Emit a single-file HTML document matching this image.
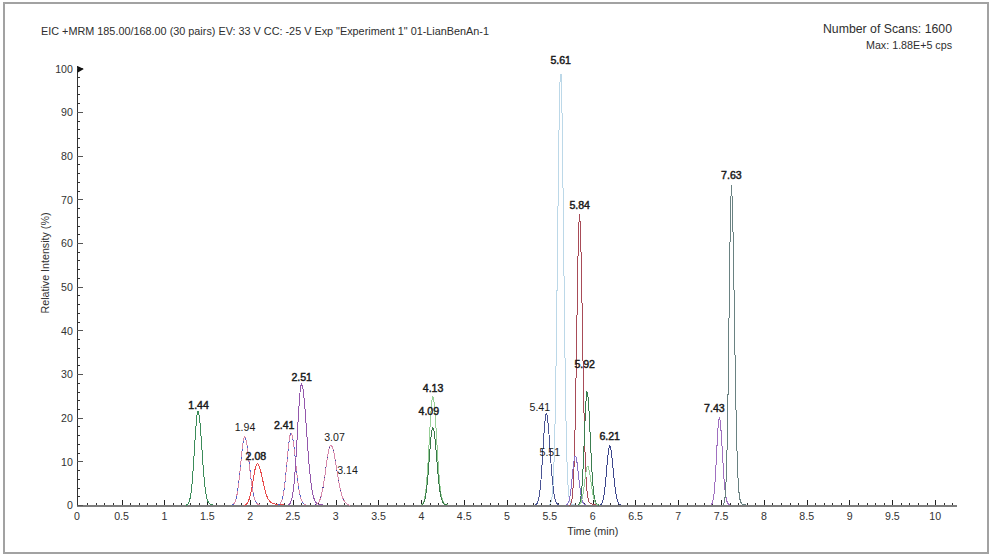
<!DOCTYPE html><html><head><meta charset="utf-8"><style>html,body{margin:0;padding:0;background:#fff;width:993px;height:558px;overflow:hidden}</style></head><body><svg width="993" height="558" viewBox="0 0 993 558" style="display:block">
<rect x="0" y="0" width="993" height="558" fill="#fff"/>
<rect x="4" y="3" width="984" height="550" fill="none" stroke="#a2a2a2" stroke-width="2"/>
<g font-family='"Liberation Sans", sans-serif'>
<text x="41" y="35" font-size="11.5" text-anchor="start" font-weight="normal" fill="#2e2e2e" textLength="448" lengthAdjust="spacingAndGlyphs" >EIC +MRM 185.00/168.00 (30 pairs) EV: 33 V CC: -25 V Exp &quot;Experiment 1&quot; 01-LianBenAn-1</text>
<text x="952" y="33" font-size="13" text-anchor="end" font-weight="normal" fill="#2e2e2e" textLength="129" lengthAdjust="spacingAndGlyphs" >Number of Scans: 1600</text>
<text x="952" y="48.6" font-size="10.5" text-anchor="end" font-weight="normal" fill="#2e2e2e" textLength="86" lengthAdjust="spacingAndGlyphs" >Max: 1.88E+5 cps</text>
<text x="0" y="0" font-size="11" text-anchor="middle" fill="#333" transform="translate(48.6,263) rotate(-90)" textLength="101" lengthAdjust="spacingAndGlyphs">Relative Intensity (%)</text>
<text x="592.8" y="535" font-size="11" text-anchor="middle" font-weight="normal" fill="#2e2e2e" textLength="51" lengthAdjust="spacingAndGlyphs" >Time (min)</text>
</g>
<g shape-rendering="crispEdges"><line x1="77.5" y1="66" x2="77.5" y2="506" stroke="#333" stroke-width="1"/><rect x="77" y="505" width="880" height="2" fill="#7c7c7c"/><line x1="77" y1="505.5" x2="83" y2="505.5" stroke="#555" stroke-width="1"/><line x1="77" y1="496.5" x2="80" y2="496.5" stroke="#333" stroke-width="1"/><line x1="77" y1="488.5" x2="80" y2="488.5" stroke="#333" stroke-width="1"/><line x1="77" y1="479.5" x2="80" y2="479.5" stroke="#333" stroke-width="1"/><line x1="77" y1="470.5" x2="80" y2="470.5" stroke="#333" stroke-width="1"/><line x1="77" y1="461.5" x2="83" y2="461.5" stroke="#555" stroke-width="1"/><line x1="77" y1="453.5" x2="80" y2="453.5" stroke="#333" stroke-width="1"/><line x1="77" y1="444.5" x2="80" y2="444.5" stroke="#333" stroke-width="1"/><line x1="77" y1="435.5" x2="80" y2="435.5" stroke="#333" stroke-width="1"/><line x1="77" y1="426.5" x2="80" y2="426.5" stroke="#333" stroke-width="1"/><line x1="77" y1="418.5" x2="83" y2="418.5" stroke="#555" stroke-width="1"/><line x1="77" y1="409.5" x2="80" y2="409.5" stroke="#333" stroke-width="1"/><line x1="77" y1="400.5" x2="80" y2="400.5" stroke="#333" stroke-width="1"/><line x1="77" y1="392.5" x2="80" y2="392.5" stroke="#333" stroke-width="1"/><line x1="77" y1="383.5" x2="80" y2="383.5" stroke="#333" stroke-width="1"/><line x1="77" y1="374.5" x2="83" y2="374.5" stroke="#555" stroke-width="1"/><line x1="77" y1="365.5" x2="80" y2="365.5" stroke="#333" stroke-width="1"/><line x1="77" y1="357.5" x2="80" y2="357.5" stroke="#333" stroke-width="1"/><line x1="77" y1="348.5" x2="80" y2="348.5" stroke="#333" stroke-width="1"/><line x1="77" y1="339.5" x2="80" y2="339.5" stroke="#333" stroke-width="1"/><line x1="77" y1="330.5" x2="83" y2="330.5" stroke="#555" stroke-width="1"/><line x1="77" y1="322.5" x2="80" y2="322.5" stroke="#333" stroke-width="1"/><line x1="77" y1="313.5" x2="80" y2="313.5" stroke="#333" stroke-width="1"/><line x1="77" y1="304.5" x2="80" y2="304.5" stroke="#333" stroke-width="1"/><line x1="77" y1="295.5" x2="80" y2="295.5" stroke="#333" stroke-width="1"/><line x1="77" y1="287.5" x2="83" y2="287.5" stroke="#555" stroke-width="1"/><line x1="77" y1="278.5" x2="80" y2="278.5" stroke="#333" stroke-width="1"/><line x1="77" y1="269.5" x2="80" y2="269.5" stroke="#333" stroke-width="1"/><line x1="77" y1="260.5" x2="80" y2="260.5" stroke="#333" stroke-width="1"/><line x1="77" y1="252.5" x2="80" y2="252.5" stroke="#333" stroke-width="1"/><line x1="77" y1="243.5" x2="83" y2="243.5" stroke="#555" stroke-width="1"/><line x1="77" y1="234.5" x2="80" y2="234.5" stroke="#333" stroke-width="1"/><line x1="77" y1="226.5" x2="80" y2="226.5" stroke="#333" stroke-width="1"/><line x1="77" y1="217.5" x2="80" y2="217.5" stroke="#333" stroke-width="1"/><line x1="77" y1="208.5" x2="80" y2="208.5" stroke="#333" stroke-width="1"/><line x1="77" y1="199.5" x2="83" y2="199.5" stroke="#555" stroke-width="1"/><line x1="77" y1="191.5" x2="80" y2="191.5" stroke="#333" stroke-width="1"/><line x1="77" y1="182.5" x2="80" y2="182.5" stroke="#333" stroke-width="1"/><line x1="77" y1="173.5" x2="80" y2="173.5" stroke="#333" stroke-width="1"/><line x1="77" y1="164.5" x2="80" y2="164.5" stroke="#333" stroke-width="1"/><line x1="77" y1="156.5" x2="83" y2="156.5" stroke="#555" stroke-width="1"/><line x1="77" y1="147.5" x2="80" y2="147.5" stroke="#333" stroke-width="1"/><line x1="77" y1="138.5" x2="80" y2="138.5" stroke="#333" stroke-width="1"/><line x1="77" y1="129.5" x2="80" y2="129.5" stroke="#333" stroke-width="1"/><line x1="77" y1="121.5" x2="80" y2="121.5" stroke="#333" stroke-width="1"/><line x1="77" y1="112.5" x2="83" y2="112.5" stroke="#555" stroke-width="1"/><line x1="77" y1="103.5" x2="80" y2="103.5" stroke="#333" stroke-width="1"/><line x1="77" y1="94.5" x2="80" y2="94.5" stroke="#333" stroke-width="1"/><line x1="77" y1="86.5" x2="80" y2="86.5" stroke="#333" stroke-width="1"/><line x1="77" y1="77.5" x2="80" y2="77.5" stroke="#333" stroke-width="1"/><line x1="77" y1="68.5" x2="83" y2="68.5" stroke="#555" stroke-width="1"/><line x1="87.5" y1="503" x2="87.5" y2="505" stroke="#333" stroke-width="1"/><line x1="96.5" y1="503" x2="96.5" y2="505" stroke="#333" stroke-width="1"/><line x1="104.5" y1="503" x2="104.5" y2="505" stroke="#333" stroke-width="1"/><line x1="113.5" y1="503" x2="113.5" y2="505" stroke="#333" stroke-width="1"/><line x1="122.5" y1="500" x2="122.5" y2="505" stroke="#222" stroke-width="1"/><line x1="130.5" y1="503" x2="130.5" y2="505" stroke="#333" stroke-width="1"/><line x1="139.5" y1="503" x2="139.5" y2="505" stroke="#333" stroke-width="1"/><line x1="147.5" y1="503" x2="147.5" y2="505" stroke="#333" stroke-width="1"/><line x1="156.5" y1="503" x2="156.5" y2="505" stroke="#333" stroke-width="1"/><line x1="164.5" y1="500" x2="164.5" y2="505" stroke="#222" stroke-width="1"/><line x1="173.5" y1="503" x2="173.5" y2="505" stroke="#333" stroke-width="1"/><line x1="181.5" y1="503" x2="181.5" y2="505" stroke="#333" stroke-width="1"/><line x1="190.5" y1="503" x2="190.5" y2="505" stroke="#333" stroke-width="1"/><line x1="199.5" y1="503" x2="199.5" y2="505" stroke="#333" stroke-width="1"/><line x1="207.5" y1="500" x2="207.5" y2="505" stroke="#222" stroke-width="1"/><line x1="216.5" y1="503" x2="216.5" y2="505" stroke="#333" stroke-width="1"/><line x1="224.5" y1="503" x2="224.5" y2="505" stroke="#333" stroke-width="1"/><line x1="233.5" y1="503" x2="233.5" y2="505" stroke="#333" stroke-width="1"/><line x1="241.5" y1="503" x2="241.5" y2="505" stroke="#333" stroke-width="1"/><line x1="250.5" y1="500" x2="250.5" y2="505" stroke="#222" stroke-width="1"/><line x1="259.5" y1="503" x2="259.5" y2="505" stroke="#333" stroke-width="1"/><line x1="267.5" y1="503" x2="267.5" y2="505" stroke="#333" stroke-width="1"/><line x1="276.5" y1="503" x2="276.5" y2="505" stroke="#333" stroke-width="1"/><line x1="284.5" y1="503" x2="284.5" y2="505" stroke="#333" stroke-width="1"/><line x1="293.5" y1="500" x2="293.5" y2="505" stroke="#222" stroke-width="1"/><line x1="301.5" y1="503" x2="301.5" y2="505" stroke="#333" stroke-width="1"/><line x1="310.5" y1="503" x2="310.5" y2="505" stroke="#333" stroke-width="1"/><line x1="318.5" y1="503" x2="318.5" y2="505" stroke="#333" stroke-width="1"/><line x1="327.5" y1="503" x2="327.5" y2="505" stroke="#333" stroke-width="1"/><line x1="336.5" y1="500" x2="336.5" y2="505" stroke="#222" stroke-width="1"/><line x1="344.5" y1="503" x2="344.5" y2="505" stroke="#333" stroke-width="1"/><line x1="353.5" y1="503" x2="353.5" y2="505" stroke="#333" stroke-width="1"/><line x1="361.5" y1="503" x2="361.5" y2="505" stroke="#333" stroke-width="1"/><line x1="370.5" y1="503" x2="370.5" y2="505" stroke="#333" stroke-width="1"/><line x1="378.5" y1="500" x2="378.5" y2="505" stroke="#222" stroke-width="1"/><line x1="387.5" y1="503" x2="387.5" y2="505" stroke="#333" stroke-width="1"/><line x1="396.5" y1="503" x2="396.5" y2="505" stroke="#333" stroke-width="1"/><line x1="404.5" y1="503" x2="404.5" y2="505" stroke="#333" stroke-width="1"/><line x1="413.5" y1="503" x2="413.5" y2="505" stroke="#333" stroke-width="1"/><line x1="421.5" y1="500" x2="421.5" y2="505" stroke="#222" stroke-width="1"/><line x1="430.5" y1="503" x2="430.5" y2="505" stroke="#333" stroke-width="1"/><line x1="438.5" y1="503" x2="438.5" y2="505" stroke="#333" stroke-width="1"/><line x1="447.5" y1="503" x2="447.5" y2="505" stroke="#333" stroke-width="1"/><line x1="456.5" y1="503" x2="456.5" y2="505" stroke="#333" stroke-width="1"/><line x1="464.5" y1="500" x2="464.5" y2="505" stroke="#222" stroke-width="1"/><line x1="473.5" y1="503" x2="473.5" y2="505" stroke="#333" stroke-width="1"/><line x1="481.5" y1="503" x2="481.5" y2="505" stroke="#333" stroke-width="1"/><line x1="490.5" y1="503" x2="490.5" y2="505" stroke="#333" stroke-width="1"/><line x1="498.5" y1="503" x2="498.5" y2="505" stroke="#333" stroke-width="1"/><line x1="507.5" y1="500" x2="507.5" y2="505" stroke="#222" stroke-width="1"/><line x1="515.5" y1="503" x2="515.5" y2="505" stroke="#333" stroke-width="1"/><line x1="524.5" y1="503" x2="524.5" y2="505" stroke="#333" stroke-width="1"/><line x1="533.5" y1="503" x2="533.5" y2="505" stroke="#333" stroke-width="1"/><line x1="541.5" y1="503" x2="541.5" y2="505" stroke="#333" stroke-width="1"/><line x1="550.5" y1="500" x2="550.5" y2="505" stroke="#222" stroke-width="1"/><line x1="558.5" y1="503" x2="558.5" y2="505" stroke="#333" stroke-width="1"/><line x1="567.5" y1="503" x2="567.5" y2="505" stroke="#333" stroke-width="1"/><line x1="575.5" y1="503" x2="575.5" y2="505" stroke="#333" stroke-width="1"/><line x1="584.5" y1="503" x2="584.5" y2="505" stroke="#333" stroke-width="1"/><line x1="593.5" y1="500" x2="593.5" y2="505" stroke="#222" stroke-width="1"/><line x1="601.5" y1="503" x2="601.5" y2="505" stroke="#333" stroke-width="1"/><line x1="610.5" y1="503" x2="610.5" y2="505" stroke="#333" stroke-width="1"/><line x1="618.5" y1="503" x2="618.5" y2="505" stroke="#333" stroke-width="1"/><line x1="627.5" y1="503" x2="627.5" y2="505" stroke="#333" stroke-width="1"/><line x1="635.5" y1="500" x2="635.5" y2="505" stroke="#222" stroke-width="1"/><line x1="644.5" y1="503" x2="644.5" y2="505" stroke="#333" stroke-width="1"/><line x1="652.5" y1="503" x2="652.5" y2="505" stroke="#333" stroke-width="1"/><line x1="661.5" y1="503" x2="661.5" y2="505" stroke="#333" stroke-width="1"/><line x1="670.5" y1="503" x2="670.5" y2="505" stroke="#333" stroke-width="1"/><line x1="678.5" y1="500" x2="678.5" y2="505" stroke="#222" stroke-width="1"/><line x1="687.5" y1="503" x2="687.5" y2="505" stroke="#333" stroke-width="1"/><line x1="695.5" y1="503" x2="695.5" y2="505" stroke="#333" stroke-width="1"/><line x1="704.5" y1="503" x2="704.5" y2="505" stroke="#333" stroke-width="1"/><line x1="712.5" y1="503" x2="712.5" y2="505" stroke="#333" stroke-width="1"/><line x1="721.5" y1="500" x2="721.5" y2="505" stroke="#222" stroke-width="1"/><line x1="730.5" y1="503" x2="730.5" y2="505" stroke="#333" stroke-width="1"/><line x1="738.5" y1="503" x2="738.5" y2="505" stroke="#333" stroke-width="1"/><line x1="747.5" y1="503" x2="747.5" y2="505" stroke="#333" stroke-width="1"/><line x1="755.5" y1="503" x2="755.5" y2="505" stroke="#333" stroke-width="1"/><line x1="764.5" y1="500" x2="764.5" y2="505" stroke="#222" stroke-width="1"/><line x1="772.5" y1="503" x2="772.5" y2="505" stroke="#333" stroke-width="1"/><line x1="781.5" y1="503" x2="781.5" y2="505" stroke="#333" stroke-width="1"/><line x1="790.5" y1="503" x2="790.5" y2="505" stroke="#333" stroke-width="1"/><line x1="798.5" y1="503" x2="798.5" y2="505" stroke="#333" stroke-width="1"/><line x1="807.5" y1="500" x2="807.5" y2="505" stroke="#222" stroke-width="1"/><line x1="815.5" y1="503" x2="815.5" y2="505" stroke="#333" stroke-width="1"/><line x1="824.5" y1="503" x2="824.5" y2="505" stroke="#333" stroke-width="1"/><line x1="832.5" y1="503" x2="832.5" y2="505" stroke="#333" stroke-width="1"/><line x1="841.5" y1="503" x2="841.5" y2="505" stroke="#333" stroke-width="1"/><line x1="849.5" y1="500" x2="849.5" y2="505" stroke="#222" stroke-width="1"/><line x1="858.5" y1="503" x2="858.5" y2="505" stroke="#333" stroke-width="1"/><line x1="867.5" y1="503" x2="867.5" y2="505" stroke="#333" stroke-width="1"/><line x1="875.5" y1="503" x2="875.5" y2="505" stroke="#333" stroke-width="1"/><line x1="884.5" y1="503" x2="884.5" y2="505" stroke="#333" stroke-width="1"/><line x1="892.5" y1="500" x2="892.5" y2="505" stroke="#222" stroke-width="1"/><line x1="901.5" y1="503" x2="901.5" y2="505" stroke="#333" stroke-width="1"/><line x1="909.5" y1="503" x2="909.5" y2="505" stroke="#333" stroke-width="1"/><line x1="918.5" y1="503" x2="918.5" y2="505" stroke="#333" stroke-width="1"/><line x1="927.5" y1="503" x2="927.5" y2="505" stroke="#333" stroke-width="1"/><line x1="935.5" y1="500" x2="935.5" y2="505" stroke="#222" stroke-width="1"/><line x1="944.5" y1="503" x2="944.5" y2="505" stroke="#333" stroke-width="1"/><line x1="952.5" y1="503" x2="952.5" y2="505" stroke="#333" stroke-width="1"/></g>
<path d="M77.5,66 L83.8,68.9 L77.5,72.8 Z" fill="#111"/>
<g font-family='"Liberation Sans", sans-serif' font-size="10.6" fill="#333"><text x="72.9" y="509.4" text-anchor="end">0</text><text x="72.9" y="465.7" text-anchor="end">10</text><text x="72.9" y="422.1" text-anchor="end">20</text><text x="72.9" y="378.4" text-anchor="end">30</text><text x="72.9" y="334.7" text-anchor="end">40</text><text x="72.9" y="291.0" text-anchor="end">50</text><text x="72.9" y="247.3" text-anchor="end">60</text><text x="72.9" y="203.6" text-anchor="end">70</text><text x="72.9" y="159.9" text-anchor="end">80</text><text x="72.9" y="116.3" text-anchor="end">90</text><text x="72.9" y="72.6" text-anchor="end">100</text><text x="76.9" y="520" text-anchor="middle">0</text><text x="121.6" y="520" text-anchor="middle">0.5</text><text x="164.4" y="520" text-anchor="middle">1</text><text x="207.3" y="520" text-anchor="middle">1.5</text><text x="250.1" y="520" text-anchor="middle">2</text><text x="292.9" y="520" text-anchor="middle">2.5</text><text x="335.7" y="520" text-anchor="middle">3</text><text x="378.5" y="520" text-anchor="middle">3.5</text><text x="421.4" y="520" text-anchor="middle">4</text><text x="464.2" y="520" text-anchor="middle">4.5</text><text x="507.0" y="520" text-anchor="middle">5</text><text x="549.8" y="520" text-anchor="middle">5.5</text><text x="592.6" y="520" text-anchor="middle">6</text><text x="635.5" y="520" text-anchor="middle">6.5</text><text x="678.3" y="520" text-anchor="middle">7</text><text x="721.1" y="520" text-anchor="middle">7.5</text><text x="763.9" y="520" text-anchor="middle">8</text><text x="806.7" y="520" text-anchor="middle">8.5</text><text x="849.6" y="520" text-anchor="middle">9</text><text x="892.4" y="520" text-anchor="middle">9.5</text><text x="935.2" y="520" text-anchor="middle">10</text></g>
<g fill="none" stroke-width="1" stroke-linejoin="round" shape-rendering="crispEdges"><path d="M186.0,505.2 L187.0,504.8 L188.0,503.9 L189.0,502.1 L190.0,498.6 L191.0,492.8 L192.0,483.9 L193.0,471.6 L194.0,456.6 L195.0,440.4 L196.0,425.7 L197.0,415.3 L198.0,411.5 L199.0,414.5 L200.0,423.1 L201.0,435.8 L202.0,450.3 L203.0,464.5 L204.0,477.0 L205.0,486.8 L206.0,493.9 L207.0,498.6 L208.0,501.5 L209.0,503.2 L210.0,504.1 L211.0,504.6 L212.0,504.8 L213.0,505.0" stroke="#3c8c5a"/><path d="M231.7,505.2 L232.7,504.7 L233.7,503.9 L234.7,502.5 L235.7,500.0 L236.7,496.2 L237.7,490.7 L238.7,483.2 L239.7,474.1 L240.7,463.9 L241.7,453.7 L242.7,445.0 L243.7,439.0 L244.7,436.9 L245.7,438.5 L246.7,443.1 L247.7,450.2 L248.7,458.7 L249.7,467.8 L250.7,476.6 L251.7,484.3 L252.7,490.7 L253.7,495.6 L254.7,499.1 L255.7,501.5 L256.7,503.1 L257.7,504.1 L258.7,504.6 L259.7,505.0" stroke="#d98aa8"/><path d="M231.7,505.2 L232.7,504.7 L233.7,503.9 L234.7,502.5 L235.7,500.0 L236.7,496.2 L237.7,490.7 L238.7,483.2 L239.7,474.1 L240.7,463.9 L241.7,453.7 L242.7,445.0 L243.7,439.0 L244.7,436.9 L245.7,438.5 L246.7,443.1 L247.7,450.2 L248.7,458.7 L249.7,467.8 L250.7,476.6 L251.7,484.3 L252.7,490.7 L253.7,495.6 L254.7,499.1 L255.7,501.5 L256.7,503.1 L257.7,504.1 L258.7,504.6 L259.7,505.0" stroke="#5060c8" stroke-dasharray="2.5,5.5"/><path d="M244.1,505.2 L245.1,504.9 L246.1,504.3 L247.1,503.3 L248.1,501.7 L249.1,499.3 L250.1,495.9 L251.1,491.5 L252.1,486.1 L253.1,480.2 L254.1,474.3 L255.1,469.1 L256.1,465.5 L257.1,463.8 L258.1,464.2 L259.1,466.0 L260.1,468.9 L261.1,472.8 L262.1,477.3 L263.1,481.9 L264.1,486.4 L265.1,490.5 L266.1,493.9 L267.1,496.7 L268.1,498.9 L269.1,500.5 L270.1,501.7 L271.1,502.5 L272.1,503.1 L273.1,503.5 L274.1,503.8 L275.1,504.0 L276.1,504.2 L277.1,504.3 L278.1,504.5 L279.1,504.6 L280.1,504.6 L281.1,504.7 L282.1,504.8 L283.1,504.9 L284.1,504.9" stroke="#e84a4a"/><path d="M278.0,505.1 L279.0,504.7 L280.0,503.9 L281.0,502.3 L282.0,499.8 L283.0,495.7 L284.0,489.9 L285.0,482.1 L286.0,472.4 L287.0,461.7 L288.0,451.0 L289.0,441.8 L290.0,435.5 L291.0,433.3 L292.0,435.0 L293.0,439.8 L294.0,447.3 L295.0,456.3 L296.0,465.8 L297.0,475.0 L298.0,483.2 L299.0,489.9 L300.0,495.0 L301.0,498.8 L302.0,501.3 L303.0,503.0 L304.0,504.0 L305.0,504.6 L306.0,504.9" stroke="#d98aa8"/><path d="M278.0,505.1 L279.0,504.7 L280.0,503.9 L281.0,502.3 L282.0,499.8 L283.0,495.7 L284.0,489.9 L285.0,482.1 L286.0,472.4 L287.0,461.7 L288.0,451.0 L289.0,441.8 L290.0,435.5 L291.0,433.3 L292.0,435.0 L293.0,439.8 L294.0,447.3 L295.0,456.3 L296.0,465.8 L297.0,475.0 L298.0,483.2 L299.0,489.9 L300.0,495.0 L301.0,498.8 L302.0,501.3 L303.0,503.0 L304.0,504.0 L305.0,504.6 L306.0,504.9" stroke="#5060c8" stroke-dasharray="2.5,5.5"/><path d="M287.5,505.2 L288.5,504.9 L289.5,504.1 L290.5,502.7 L291.5,500.1 L292.5,495.8 L293.5,489.0 L294.5,479.2 L295.5,466.0 L296.5,449.7 L297.5,431.6 L298.5,413.6 L299.5,398.0 L300.5,387.4 L301.5,383.7 L302.5,385.9 L303.5,392.5 L304.5,402.7 L305.5,415.5 L306.5,429.7 L307.5,444.1 L308.5,457.5 L309.5,469.4 L310.5,479.2 L311.5,487.0 L312.5,492.8 L313.5,497.0 L314.5,499.9 L315.5,501.8 L316.5,503.0 L317.5,503.8 L318.5,504.3 L319.5,504.6 L320.5,504.8 L321.5,504.9 L322.5,505.0" stroke="#9458ac"/><path d="M314.8,505.1 L315.8,504.8 L316.8,504.3 L317.8,503.4 L318.8,502.1 L319.8,500.1 L320.8,497.3 L321.8,493.5 L322.8,488.7 L323.8,482.8 L324.8,476.1 L325.8,468.8 L326.8,461.6 L327.8,455.0 L328.8,449.7 L329.8,446.2 L330.8,445.0 L331.8,445.9 L332.8,448.4 L333.8,452.3 L334.8,457.5 L335.8,463.4 L336.8,469.6 L337.8,475.8 L338.8,481.6 L339.8,486.9 L340.8,491.4 L341.8,495.1 L342.8,498.0 L343.8,500.3 L344.8,501.9 L345.8,503.1 L346.8,503.9 L347.8,504.5 L348.8,504.9 L349.8,505.1" stroke="#d88aac"/><path d="M314.8,505.1 L315.8,504.8 L316.8,504.3 L317.8,503.4 L318.8,502.1 L319.8,500.1 L320.8,497.3 L321.8,493.5 L322.8,488.7 L323.8,482.8 L324.8,476.1 L325.8,468.8 L326.8,461.6 L327.8,455.0 L328.8,449.7 L329.8,446.2 L330.8,445.0 L331.8,445.9 L332.8,448.4 L333.8,452.3 L334.8,457.5 L335.8,463.4 L336.8,469.6 L337.8,475.8 L338.8,481.6 L339.8,486.9 L340.8,491.4 L341.8,495.1 L342.8,498.0 L343.8,500.3 L344.8,501.9 L345.8,503.1 L346.8,503.9 L347.8,504.5 L348.8,504.9 L349.8,505.1" stroke="#40409a" stroke-dasharray="1,9"/><path d="M420.8,505.2 L421.8,504.7 L422.8,503.7 L423.8,501.5 L424.8,497.5 L425.8,490.8 L426.8,480.5 L427.8,466.3 L428.8,448.9 L429.8,430.1 L430.8,413.1 L431.8,401.1 L432.8,396.7 L433.8,400.2 L434.8,410.3 L435.8,424.9 L436.8,441.8 L437.8,458.3 L438.8,472.8 L439.8,484.2 L440.8,492.4 L441.8,497.8 L442.8,501.1 L443.8,503.0 L444.8,504.0 L445.8,504.6 L446.8,504.9 L447.8,505.0" stroke="#98d098"/><path d="M421.8,504.9 L422.8,504.2 L423.8,502.6 L424.8,499.8 L425.8,494.9 L426.8,487.5 L427.8,477.3 L428.8,464.8 L429.8,451.3 L430.8,439.1 L431.8,430.4 L432.8,427.3 L433.8,429.8 L434.8,437.1 L435.8,447.6 L436.8,459.7 L437.8,471.6 L438.8,482.0 L439.8,490.2 L440.8,496.1 L441.8,499.9 L442.8,502.3 L443.8,503.7 L444.8,504.4 L445.8,504.8 L446.8,505.0" stroke="#3a7a4a"/><path d="M535.5,505.1 L536.5,504.4 L537.5,502.9 L538.5,499.8 L539.5,494.4 L540.5,485.8 L541.5,473.4 L542.5,457.8 L543.5,441.0 L544.5,425.8 L545.5,415.7 L546.5,413.1 L547.5,417.6 L548.5,427.6 L549.5,441.3 L550.5,456.2 L551.5,470.2 L552.5,482.0 L553.5,490.8 L554.5,496.9 L555.5,500.7 L556.5,503.0 L557.5,504.2 L558.5,504.8 L559.5,505.1" stroke="#4a5494"/><path d="M549.1,505.1 L550.1,504.2 L551.1,501.9 L552.1,496.2 L553.1,483.9 L554.1,460.3 L555.1,420.3 L556.1,360.6 L557.1,283.5 L558.1,199.0 L559.1,124.1 L560.1,77.9 L561.1,73.8 L562.1,117.0 L563.1,194.6 L564.1,284.2 L565.1,365.2 L566.1,426.1 L567.1,465.1 L568.1,486.8 L569.1,497.3 L570.1,501.9 L571.1,503.7 L572.1,504.4 L573.1,504.7 L574.1,504.9 L575.1,505.0" stroke="#bcd8e8"/><path d="M569.3,505.3 L570.3,504.6 L571.3,502.6 L572.3,497.2 L573.3,484.6 L574.3,459.8 L575.3,418.4 L576.3,360.7 L577.3,295.8 L578.3,240.8 L579.3,214.1 L580.3,223.8 L581.3,263.0 L582.3,319.4 L583.3,378.1 L584.3,427.3 L585.3,462.1 L586.3,483.3 L587.3,494.6 L588.3,499.9 L589.3,502.3 L590.3,503.3 L591.3,503.8 L592.3,504.1 L593.3,504.3 L594.3,504.5 L595.3,504.7 L596.3,504.8 L597.3,504.9 L598.3,505.0" stroke="#a84c58"/><path d="M565.9,505.2 L566.9,504.8 L567.9,503.6 L568.9,501.2 L569.9,496.8 L570.9,489.8 L571.9,480.6 L572.9,470.4 L573.9,461.4 L574.9,456.5 L575.9,456.8 L576.9,461.7 L577.9,469.7 L578.9,478.9 L579.9,487.5 L580.9,494.4 L581.9,499.3 L582.9,502.2 L583.9,503.9 L584.9,504.7 L585.9,505.1" stroke="#8a72c8"/><path d="M577.9,505.2 L578.9,504.4 L579.9,502.2 L580.9,497.3 L581.9,487.7 L582.9,471.5 L583.9,449.0 L584.9,423.7 L585.9,402.2 L586.9,391.8 L587.9,395.1 L588.9,408.8 L589.9,429.0 L590.9,450.9 L591.9,470.2 L592.9,484.8 L593.9,494.4 L594.9,500.0 L595.9,502.9 L596.9,504.3 L597.9,504.8 L598.9,505.1" stroke="#3c7e50"/><path d="M579.2,504.9 L580.2,504.0 L581.2,502.1 L582.2,498.6 L583.2,493.1 L584.2,485.7 L585.2,477.6 L586.2,470.5 L587.2,466.6 L588.2,466.8 L589.2,470.5 L590.2,476.5 L591.2,483.6 L592.2,490.3 L593.2,495.9 L594.2,499.9 L595.2,502.5 L596.2,504.0 L597.2,504.8 L598.2,505.1" stroke="#98d098"/><path d="M599.7,505.3 L600.7,504.8 L601.7,503.8 L602.7,501.5 L603.7,497.4 L604.7,490.5 L605.7,480.8 L606.7,469.0 L607.7,457.3 L608.7,448.6 L609.7,445.3 L610.7,447.8 L611.7,454.7 L612.7,464.4 L613.7,475.0 L614.7,484.6 L615.7,492.4 L616.7,497.9 L617.7,501.4 L618.7,503.4 L619.7,504.5 L620.7,505.0" stroke="#3c468c"/><path d="M710.7,505.1 L711.7,504.3 L712.7,502.0 L713.7,496.8 L714.7,487.0 L715.7,471.5 L716.7,451.8 L717.7,432.2 L718.7,419.2 L719.7,417.7 L720.7,425.8 L721.7,440.7 L722.7,458.2 L723.7,474.6 L724.7,487.2 L725.7,495.7 L726.7,500.7 L727.7,503.3 L728.7,504.4 L729.7,505.0" stroke="#a070c0"/><path d="M722.6,505.3 L723.6,504.5 L724.6,501.4 L725.6,492.1 L726.6,469.1 L727.6,423.5 L728.6,352.5 L729.6,269.2 L730.6,203.3 L731.6,185.2 L732.6,210.2 L733.6,263.2 L734.6,328.6 L735.6,390.3 L736.6,438.5 L737.6,470.3 L738.6,488.6 L739.6,497.8 L740.6,501.9 L741.6,503.6 L742.6,504.3 L743.6,504.6 L744.6,504.8 L745.6,504.9" stroke="#6a8282"/></g>
<g font-family='"Liberation Sans", sans-serif' font-size="10.6" fill="#1a1a1a" text-anchor="middle"><text x="198.6" y="409.4" stroke="#1a1a1a" stroke-width="0.45">1.44</text><text x="245.0" y="431.3">1.94</text><text x="255.9" y="459.6" stroke="#1a1a1a" stroke-width="0.45">2.08</text><text x="284.2" y="429.1" stroke="#1a1a1a" stroke-width="0.45">2.41</text><text x="301.7" y="381.4" stroke="#1a1a1a" stroke-width="0.45">2.51</text><text x="334.5" y="440.9">3.07</text><text x="347.5" y="474.0">3.14</text><text x="433.1" y="391.6" stroke="#1a1a1a" stroke-width="0.45">4.13</text><text x="428.8" y="415.1" stroke="#1a1a1a" stroke-width="0.45">4.09</text><text x="539.8" y="410.7">5.41</text><text x="549.8" y="456.2">5.51</text><text x="560.7" y="64.3" stroke="#1a1a1a" stroke-width="0.45">5.61</text><text x="579.7" y="208.9" stroke="#1a1a1a" stroke-width="0.45">5.84</text><text x="584.7" y="368.2" stroke="#1a1a1a" stroke-width="0.45">5.92</text><text x="609.7" y="439.9" stroke="#1a1a1a" stroke-width="0.45">6.21</text><text x="714.4" y="411.5" stroke="#1a1a1a" stroke-width="0.45">7.43</text><text x="731.4" y="178.9" stroke="#1a1a1a" stroke-width="0.45">7.63</text></g>
</svg></body></html>
